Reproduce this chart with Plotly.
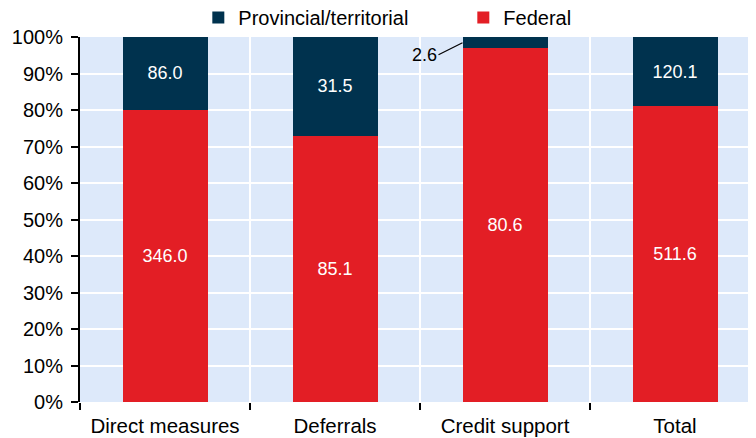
import plotly.graph_objects as go

categories = ['Direct measures', 'Deferrals', 'Credit support', 'Total']
federal = [346.0, 85.1, 80.6, 511.6]
provincial = [86.0, 31.5, 2.6, 120.1]
y_ticks = [0, 10, 20, 30, 40, 50, 60, 70, 80, 90, 100]

RED = '#E31E25'
NAVY = '#00324E'
FONT = 'Liberation Sans, Arial, sans-serif'

# text for small segments goes in an outside callout instead
prov_text = [f'{v:.1f}' if v > 10 else '' for v in provincial]

fig = go.Figure()
fig.add_trace(go.Bar(
    x=categories, y=federal, name='Federal',
    marker=dict(color=RED, line=dict(width=0)),
    text=[f'{v:.1f}' for v in federal],
    textposition='inside', insidetextanchor='middle',
    textfont=dict(color='white', size=18, family=FONT),
    width=0.5,
))
fig.add_trace(go.Bar(
    x=categories, y=provincial, name='Provincial/territorial',
    marker=dict(color=NAVY, line=dict(width=0)),
    text=prov_text,
    textposition='inside', insidetextanchor='middle',
    textfont=dict(color='white', size=18, family=FONT),
    width=0.5,
))

# callout for the tiny credit support provincial share
small_idx = 2
small_pct = 100 - provincial[small_idx] / (federal[small_idx] + provincial[small_idx]) * 100 / 2
fig.add_annotation(
    x=small_idx - 0.25, y=small_pct, xref='x', yref='y',
    text=f'{provincial[small_idx]:.1f}', showarrow=True, arrowhead=0,
    arrowwidth=1.2, arrowcolor='black', ax=-24, ay=12, xanchor='right',
    font=dict(size=18, color='black', family=FONT),
)

fig.update_layout(
    width=756, height=438,
    barmode='stack', barnorm='percent',
    plot_bgcolor='#DDE9FA', paper_bgcolor='white',
    font=dict(family=FONT, size=20, color='black'),
    margin=dict(l=72, r=4, t=29, b=44, autoexpand=False),
    showlegend=True,
    legend=dict(
        orientation='h', x=0.174, y=1.0, xanchor='left', yanchor='bottom',
        traceorder='reversed', entrywidth=220, entrywidthmode='pixels',
        font=dict(size=20), itemwidth=30,
    ),
    xaxis=dict(
        tickson='boundaries', ticks='outside', ticklen=7, tickwidth=2,
        tickcolor='black', showgrid=True, gridcolor='white', gridwidth=2,
        showline=False, range=[-0.5, 3.5], tickfont=dict(size=20.5),
        ticklabelstandoff=9,
    ),
    yaxis=dict(
        range=[0, 100], tickvals=y_ticks,
        ticktext=[f'{t}%' for t in y_ticks],
        ticks='outside', ticklen=7, tickwidth=2, tickcolor='black',
        showline=True, linecolor='black', linewidth=2,
        showgrid=True, gridcolor='white', gridwidth=2, zeroline=False,
        ticklabelstandoff=4,
    ),
)

fig.write_html('out.html')
